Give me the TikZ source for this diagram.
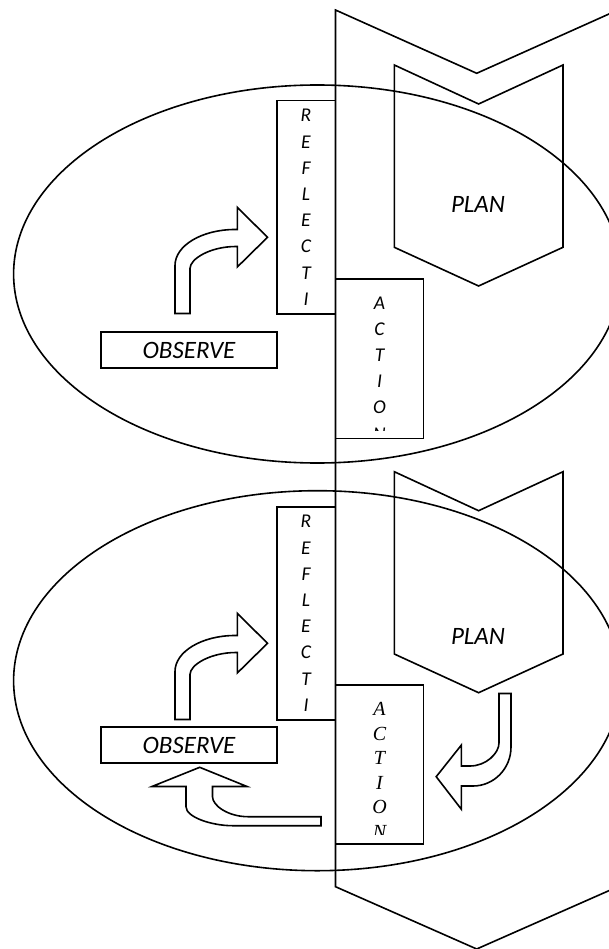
\documentclass[tikz,border=0pt]{standalone}
\usepackage{fontspec}
\setmainfont{Carlito}
\newfontfamily\serifit{Liberation Serif}
\usetikzlibrary{shapes.geometric}
\begin{document}
\begin{tikzpicture}[x=1pt,y=-1pt,line width=1.6pt,line join=miter,
  box/.style={draw,rectangle,inner sep=0pt,outer sep=0pt},
  cyclering/.style={draw,ellipse,inner sep=0pt,minimum width=607.4pt},
  lbl/.style={font=\fontsize{25}{30}\selectfont\itshape,inner sep=0pt},
  letter/.style={font=\fontsize{19.5}{23}\selectfont\itshape,inner sep=0pt},
  sletter/.style={font=\fontsize{20}{24}\selectfont\serifit\itshape,inner sep=0pt},
  bendup/.pic={
    \draw (175,313.5) -- (175,265.5)
      .. controls (175,245.6) and (201.9,229.5) .. (235,229.5)
      -- (237.3,229.5) -- (237.3,207.3) -- (267.5,237.3) -- (237.3,267)
      -- (237.3,246.5) -- (236,246.5)
      .. controls (210.6,246.5) and (190,258.7) .. (190,268.5)
      -- (190,313.5) -- cycle;
  }]
\useasboundingbox (0,0) rectangle (608,949);

% long downward chevron carrying both cycles
\draw (335.5,10) -- (476.7,73.3) -- (617.9,10) -- (617.9,886.7)
  -- (476.7,949) -- (335.5,886.7) -- cycle;

% ---------- first cycle ----------
\node[cyclering,minimum height=378pt] (cycleA) at (317.3,274) {};
\draw (394.3,65) -- (478.6,104) -- (563,65) -- (563,247.3)
  -- (478.6,286) -- (394.3,247.3) -- cycle;
\node[lbl] (planA) at (478,204) {PLAN};

\node[box,minimum width=58.8pt,minimum height=213.3pt] (reflectA) at (306.1,207.35) {};
\foreach \ch [count=\i from 0] in {R,E,F,L,E,C,T,I}
  \node[letter] (rA\i) at (306,115.7+26.2*\i) {\ch};

\node[box,minimum width=87.8pt,minimum height=159.3pt] (actionA) at (379.4,358.65) {};
\begin{scope}
  \clip (336,279) rectangle (423,430);
  \foreach \ch [count=\i from 0] in {A,C,T,I,O,N}
    \node[letter] (aA\i) at (379.5,303.3+26.1*\i) {\ch};
\end{scope}

\node[box,minimum width=176.4pt,minimum height=36pt] (observeA) at (189,349.7) {};
\node[lbl] (obsA) at (189,350) {OBSERVE};
\pic {bendup};

% ---------- second cycle ----------
\node[cyclering,minimum height=380pt] (cycleB) at (317.3,680.7) {};
\draw (394.3,471.7) -- (478.6,510.7) -- (563,471.7) -- (563,654)
  -- (478.6,692.7) -- (394.3,654) -- cycle;
\node[lbl] (planB) at (478,636.7) {PLAN};

\node[box,minimum width=58.8pt,minimum height=213.3pt] (reflectB) at (306.1,613.35) {};
\foreach \ch [count=\i from 0] in {R,E,F,L,E,C,T,I}
  \node[letter] (rB\i) at (306,521.7+26.2*\i) {\ch};

\node[box,minimum width=87.8pt,minimum height=159pt] (actionB) at (379.4,764.5) {};
\begin{scope}
  \clip (336,685) rectangle (423,834);
  \foreach \ch [count=\i from 0] in {A,C,T,I,O,N}
    \node[sletter] (aB\i) at (379.5,709+24.6*\i) {\ch};
\end{scope}

\node[box,minimum width=176.4pt,minimum height=36pt] (observeB) at (189,744.7) {};
\node[lbl] (obsB) at (189,745) {OBSERVE};
\pic at (0,406) {bendup};

% plan -> action: down then left
\draw (499,693.5) -- (511,693.5) -- (511,747)
  .. controls (511,768.5) and (494,786) .. (473,786)
  -- (461.4,786) -- (461.4,809.3) -- (436.2,776.7) -- (461.4,745)
  -- (461.4,766) -- (470,766)
  .. controls (486,766) and (499,753.3) .. (499,743) -- cycle;

% action -> observe: left then up
\draw (321,816.7) -- (248,816.7)
  .. controls (228.4,816.7) and (212.5,805.7) .. (212.5,796.7)
  -- (212.5,786.5) -- (247,786.5) -- (199.7,767.3) -- (152,786.5)
  -- (186,786.5) -- (186,806.7)
  .. controls (186,817.2) and (211.7,825.7) .. (232.6,825.7)
  -- (321,825.7) -- cycle;
\end{tikzpicture}
\end{document}
